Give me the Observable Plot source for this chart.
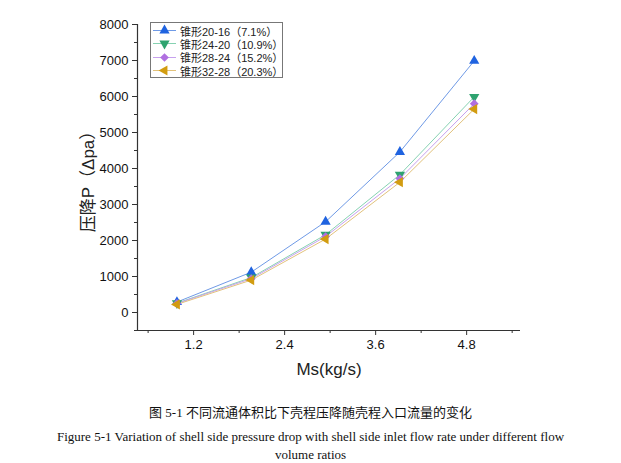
<!DOCTYPE html>
<html><head><meta charset="utf-8">
<script src="https://cdn.jsdelivr.net/npm/d3@7"></script>
<script src="https://cdn.jsdelivr.net/npm/@observablehq/plot@0.6"></script>
<style>
body{margin:0;background:#fff;}
#wrap{position:relative;width:621px;height:463px;font-family:"Liberation Sans",Arial,"Noto Sans CJK SC",sans-serif;}
#wrap svg.plot{display:block;}
g[aria-label="x-axis label"] text, g[aria-label="y-axis label"] text{font-size:17px;fill:#222;}
#legend{position:absolute;left:150px;top:22px;width:131px;height:53px;border:1px solid #777;background:#fff;padding-top:1px;}
#legend .row{height:13.3px;display:flex;align-items:center;font-size:11px;color:#222;white-space:nowrap;}
#legend svg{margin-left:1px;margin-right:3px;flex-shrink:0;}
#cap-cn{margin-top:3px;text-align:center;line-height:20px;font-size:13px;font-family:"Liberation Serif","Noto Sans CJK SC",serif;color:#111;white-space:nowrap;}
#cap-en{margin-top:5px;text-align:center;line-height:18px;font-size:13px;font-family:"Liberation Serif","Times New Roman",serif;color:#111;white-space:nowrap;}
</style></head><body><div id="wrap"></div>
<script>
// ---- data ----
const massFlow = [0.98, 1.96, 2.94, 3.92, 4.9];
const seriesNames = ["锥形20-16（7.1%）", "锥形24-20（10.9%）", "锥形28-24（15.2%）", "锥形32-28（20.3%）"];
const drop2016 = [290, 1120, 2520, 4460, 6990];
const drop2420 = [260, 970, 2160, 3830, 5990];
const drop2824 = [250, 940, 2110, 3720, 5800];
const drop3228 = [225, 900, 2040, 3620, 5650];
const xMajorTicks = [1.2, 2.4, 3.6, 4.8];
const xMinorTicks = [0.6, 1.8, 3.0, 4.2, 5.4];
const yMajorTicks = [0, 1000, 2000, 3000, 4000, 5000, 6000, 7000, 8000];
const yMinorTicks = [-500, 500, 1500, 2500, 3500, 4500, 5500, 6500, 7500];
const xLabel = "Ms(kg/s)";
const yLabel = "压降P（Δpa）";
const captionCn = "图 5-1  不同流通体积比下壳程压降随壳程入口流量的变化";
const captionEn1 = "Figure 5-1 Variation of shell side pressure drop with shell side inlet flow rate under different flow";
const captionEn2 = "volume ratios";

// ---- styles ----
const markerColors = ["#1f63e0", "#2ea36f", "#b06fe0", "#d29c10"];
const lineColors = ["#6f9ae6", "#86d2b2", "#c7a1ee", "#e2c27c"];
const symbols = ["triangle", "triangle", "square", "triangle"];
const rotations = [0, 180, 45, -90];
const xDomain = [0.46, 5.51];
const yDomain = [-500, 8000];

const allSeries = [drop2016, drop2420, drop2824, drop3228];
const rows = allSeries.map((vals, i) => vals.map((v, j) => ({x: massFlow[j], y: v, series: seriesNames[i]})));

const marks = [
  Plot.ruleX([xDomain[0]], {stroke: "#333", strokeWidth: 1.2}),
  Plot.ruleY([yDomain[0]], {stroke: "#333", strokeWidth: 1.2}),
  Plot.axisX({ticks: xMajorTicks, tickFormat: d => d.toFixed(1), tickSize: 5, stroke: "#333", fill: "#111", fontSize: 13, label: xLabel, labelAnchor: "center", labelOffset: 44, labelArrow: "none"}),
  Plot.axisX({ticks: xMinorTicks, tickSize: 3, stroke: "#333", tickFormat: () => "", label: null}),
  Plot.axisY({ticks: yMajorTicks, tickFormat: d => String(d), tickSize: 5, stroke: "#333", fill: "#111", fontSize: 13, label: yLabel, labelAnchor: "center", labelOffset: 56, labelArrow: "none"}),
  Plot.axisY({ticks: yMinorTicks, tickSize: 3, stroke: "#333", tickFormat: () => "", label: null})
];
rows.forEach((r, i) => {
  marks.push(Plot.line(r, {x: "x", y: "y", stroke: lineColors[i], strokeWidth: 1}));
});
rows.forEach((r, i) => {
  marks.push(Plot.dot(r, {x: "x", y: "y", symbol: symbols[i], fill: markerColors[i], stroke: "none", r: symbols[i] === "square" ? 3.5 : 3.8, rotate: rotations[i]}));
});

const chart = Plot.plot({
  width: 621, height: 400,
  marginLeft: 137, marginRight: 101, marginTop: 24, marginBottom: 70,
  style: {fontFamily: '"Liberation Sans", Arial, "Noto Sans CJK SC", sans-serif', fontSize: "13px", background: "#fff", color: "#111"},
  x: {domain: xDomain},
  y: {domain: yDomain},
  marks
});
const wrap = document.getElementById("wrap");
wrap.appendChild(chart);

// legend
const legend = d3.select(wrap).append("div").attr("id", "legend");
seriesNames.forEach((name, i) => {
  const row = legend.append("div").attr("class", "row");
  const s = row.append("svg").attr("width", 25).attr("height", 13);
  s.append("line").attr("x1", 1).attr("x2", 24).attr("y1", 6.5).attr("y2", 6.5).attr("stroke", lineColors[i]).attr("stroke-width", 1);
  const sym = symbols[i] === "square" ? d3.symbolSquare : d3.symbolTriangle;
  const size = symbols[i] === "square" ? 38 : 45;
  s.append("path").attr("d", d3.symbol(sym, size)()).attr("transform", `translate(12.5,6.5) rotate(${rotations[i]})`).attr("fill", markerColors[i]);
  row.append("span").text(name);
});

d3.select(wrap).append("div").attr("id", "cap-cn").text(captionCn);
const en = d3.select(wrap).append("div").attr("id", "cap-en");
en.append("div").text(captionEn1);
en.append("div").text(captionEn2);
</script>
</body></html>
